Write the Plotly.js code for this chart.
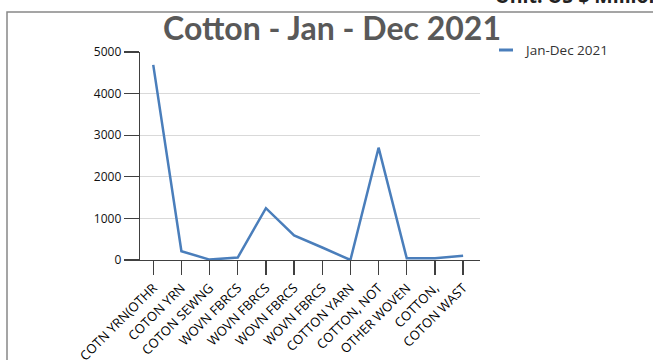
<!DOCTYPE html>
<html>
<head>
<meta charset="utf-8">
<script src="https://cdn.plot.ly/plotly-3.0.1.min.js"></script>
<style>html,body{margin:0;padding:0;background:#fff;}#chart{width:653px;height:360px;}</style>
</head>
<body>
<div id="chart"></div>
<script>
const categories = ["COTN YRN(OTHR", "COTON YRN", "COTON SEWNG", "WOVN FBRCS", "WOVN FBRCS", "WOVN FBRCS", "WOVN FBRCS", "COTTON YARN", "COTTON, NOT", "OTHER WOVEN", "COTTON,", "COTON WAST"];
const values = [4690, 210, 10, 60, 1245, 590, 300, 0, 2700, 40, 45, 100];
const seriesName = "Jan-Dec 2021";
const chartTitle = "Cotton - Jan - Dec 2021";
const unitText = "Unit: US $ Million";
const yTicks = [0, 1000, 2000, 3000, 4000, 5000];

const W = 653, H = 360;
const L = 140, R = 480, T = 52, B = 260;
const px = x => (x - L) / (R - L);
const py = y => (B - y) / (B - T);

const idx = categories.map((_, i) => i);

const trace = {
  x: idx, y: values, type: 'scatter', mode: 'lines', name: seriesName,
  line: {color: '#4a7ebb', width: 2.5}, showlegend: false, cliponaxis: false
};

const layout = {
  width: W, height: H,
  margin: {l: L, r: W - R, t: T, b: H - B},
  paper_bgcolor: '#fff', plot_bgcolor: '#fff',
  font: {family: 'Open Sans, sans-serif', color: '#000'},
  title: {text: chartTitle, font: {family: 'Lato, sans-serif', size: 32, color: '#595959', weight: 'bold'},
          xref: 'paper', x: px(332), xanchor: 'center', yref: 'container', y: 1 - 29/H, yanchor: 'middle'},
  xaxis: {range: [-0.47, 11.6], tickvals: idx, ticktext: categories, tickangle: -45,
          ticks: 'outside', ticklen: 14, tickwidth: 1.3, tickcolor: '#404040',
          showline: true, linecolor: '#404040', linewidth: 1.3, showgrid: false, zeroline: false,
          tickfont: {size: 13, color: '#000'}, fixedrange: true},
  yaxis: {range: [0, 5000], tickvals: yTicks, ticks: 'outside', ticklen: 15, tickwidth: 1.3, tickcolor: '#404040',
          showline: true, linecolor: '#404040', linewidth: 1.3, showgrid: true, gridcolor: '#d9d9d9', gridwidth: 1,
          zeroline: false, tickfont: {size: 12, color: '#111'}, fixedrange: true},
  shapes: [
    {type: 'rect', xref: 'paper', yref: 'paper', x0: px(7), x1: px(700), y0: py(400), y1: py(12),
     line: {color: '#888', width: 1.5}, fillcolor: 'rgba(0,0,0,0)', layer: 'below'},
    {type: 'line', xref: 'paper', yref: 'paper', x0: px(499), x1: px(513), y0: py(50), y1: py(50),
     line: {color: '#4a7ebb', width: 3}}
  ],
  annotations: [
    {text: seriesName, xref: 'paper', yref: 'paper', x: px(522), y: py(50), xanchor: 'left', yanchor: 'middle',
     showarrow: false, font: {size: 13.5, color: '#333'}},
    {text: unitText, xref: 'paper', yref: 'paper', x: px(493), y: py(11), xanchor: 'left', yanchor: 'bottom',
     showarrow: false, font: {size: 19.5, color: '#222', weight: 'bold'}}
  ],
  showlegend: false
};

Plotly.newPlot('chart', [trace], layout, {displayModeBar: false, staticPlot: true});
</script>
</body>
</html>
